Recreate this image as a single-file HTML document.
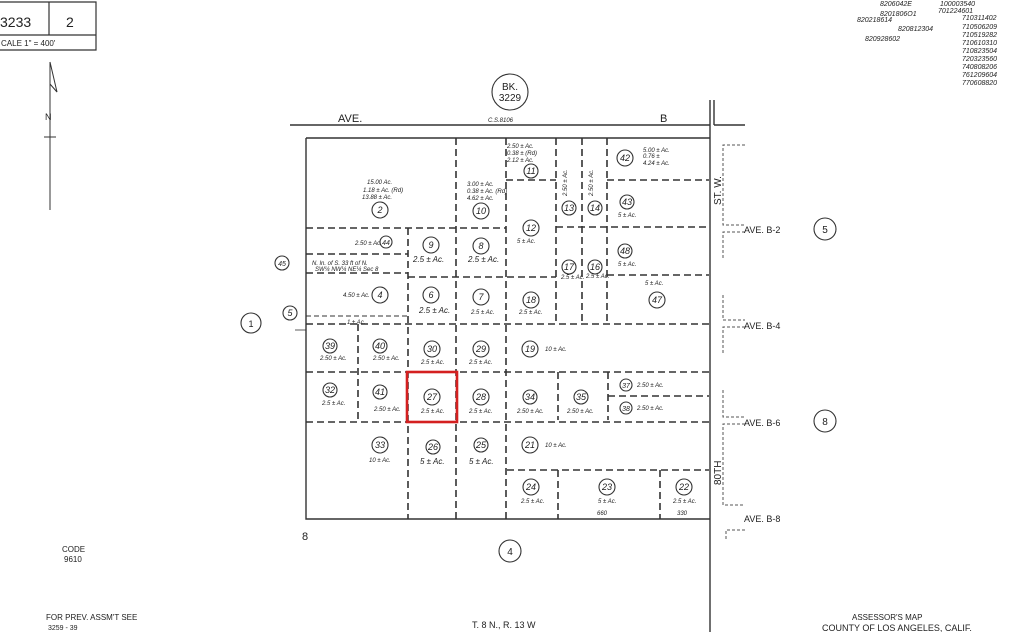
<!DOCTYPE html>
<html><head><meta charset="utf-8"><style>
html,body{margin:0;padding:0;background:#fff;width:1024px;height:632px;overflow:hidden}
svg{display:block}
text{font-family:"Liberation Sans",sans-serif;fill:#222}
.s{font-size:6px;font-style:italic}
.n{font-size:9px;font-style:italic;text-anchor:middle}
.d{stroke:#333;stroke-width:1.6;stroke-dasharray:7,4;fill:none}
.l{stroke:#333;stroke-width:1.6;fill:none}
.p{stroke:#555;stroke-width:1;stroke-dasharray:3,2;fill:none}
circle{fill:none;stroke:#333;stroke-width:1.1}
</style></head><body>
<svg width="1024" height="632" viewBox="0 0 1024 632" xmlns="http://www.w3.org/2000/svg">
<!-- header box -->
<path class="l" d="M0 2H96V50H0M0 35H96M49 2V35" style="stroke-width:1.2"/>
<text x="0" y="27" style="font-size:14px">3233</text>
<text x="66" y="27" style="font-size:14px">2</text>
<text x="1" y="46" style="font-size:8px">CALE 1" = 400'</text>
<!-- north arrow -->
<path class="l" d="M50 62V210M44 137H56M50 62L57 92L50 84" style="stroke-width:1"/>
<text x="45" y="120" style="font-size:9px">N</text>
<!-- top right numbers -->
<g style="font-size:7px;font-style:italic">
<text x="880" y="6">8206042E</text><text x="940" y="6">100003540</text>
<text x="880" y="16">8201806O1</text><text x="938" y="13">701224601</text>
<text x="857" y="22">820218614</text><text x="898" y="31">820812304</text>
<text x="865" y="41">820928602</text>
<text x="962" y="20">710311402</text><text x="962" y="29">710506209</text>
<text x="962" y="37">710519282</text><text x="962" y="45">710610310</text>
<text x="962" y="53">710823504</text><text x="962" y="61">720323560</text>
<text x="962" y="69">740808206</text><text x="962" y="77">761209604</text>
<text x="962" y="85">770608820</text>
</g>
<!-- BK circle -->
<circle cx="510" cy="92" r="18"/>
<text x="510" y="90" style="font-size:10px;text-anchor:middle">BK.</text>
<text x="510" y="101" style="font-size:10px;text-anchor:middle">3229</text>
<!-- Ave B -->
<path class="l" d="M290 125H710M714 125H745M710 100V632M714 100V125M306 138H710M306 138V519H710" style="stroke-width:1.4"/>
<text x="338" y="122" style="font-size:11px">AVE.</text>
<text x="660" y="122" style="font-size:11px">B</text>
<text x="488" y="122" class="s">C.S.8106</text>
<text x="302" y="540" style="font-size:11px">8</text>
<!-- dashed internal lines -->
<path class="d" d="M456 138V519M506 138V519M556 138V324M582 138V324M607 138V324
M408 228V519M358 324V420
M306 228H506M306 254H408M306 273H408M506 180H556M607 180H709M556 227H709
M408 277H556M607 275H709M306 324H709
M306 372H709M306 422H709M558 372V420M608 372V420M608 396H709
M507 470H709M558 470V519M660 470V519"/>
<path class="l" d="M306 316H408" style="stroke-width:1;stroke-dasharray:5,3"/>
<path class="l" d="M295 330L306 330" style="stroke-width:0.8"/>
<!-- red box -->
<rect x="407" y="372" width="50" height="50" fill="none" stroke="#d42020" stroke-width="2.6"/>
<!-- parcels -->
<g>
<circle cx="380" cy="210" r="8"/><text class="n" x="380" y="213">2</text>
<circle cx="481" cy="211" r="8"/><text class="n" x="481" y="214">10</text>
<circle cx="531" cy="171" r="7"/><text class="n" x="531" y="174">11</text>
<circle cx="531" cy="228" r="8"/><text class="n" x="531" y="231">12</text>
<circle cx="569" cy="208" r="7"/><text class="n" x="569" y="211">13</text>
<circle cx="595" cy="208" r="7"/><text class="n" x="595" y="211">14</text>
<circle cx="625" cy="158" r="8"/><text class="n" x="625" y="161">42</text>
<circle cx="627" cy="202" r="7"/><text class="n" x="627" y="205">43</text>
<circle cx="386" cy="242" r="6"/><text class="n" x="386" y="245" style="font-size:7px">44</text>
<circle cx="431" cy="245" r="8"/><text class="n" x="431" y="248">9</text>
<circle cx="481" cy="246" r="8"/><text class="n" x="481" y="249">8</text>
<circle cx="625" cy="251" r="7"/><text class="n" x="625" y="254">48</text>
<circle cx="569" cy="267" r="7"/><text class="n" x="569" y="270">17</text>
<circle cx="595" cy="267" r="7"/><text class="n" x="595" y="270">16</text>
<circle cx="657" cy="300" r="8"/><text class="n" x="657" y="303">47</text>
<circle cx="380" cy="295" r="8"/><text class="n" x="380" y="298">4</text>
<circle cx="431" cy="295" r="8"/><text class="n" x="431" y="298">6</text>
<circle cx="481" cy="297" r="8"/><text class="n" x="481" y="300">7</text>
<circle cx="531" cy="300" r="8"/><text class="n" x="531" y="303">18</text>
<circle cx="282" cy="263" r="7"/><text class="n" x="282" y="266" style="font-size:7px">45</text>
<circle cx="290" cy="313" r="7"/><text class="n" x="290" y="316">5</text>
<circle cx="251" cy="323" r="10"/><text class="n" x="251" y="327" style="font-style:normal">1</text>
<circle cx="330" cy="346" r="7"/><text class="n" x="330" y="349">39</text>
<circle cx="380" cy="346" r="7"/><text class="n" x="380" y="349">40</text>
<circle cx="432" cy="349" r="8"/><text class="n" x="432" y="352">30</text>
<circle cx="481" cy="349" r="8"/><text class="n" x="481" y="352">29</text>
<circle cx="530" cy="349" r="8"/><text class="n" x="530" y="352">19</text>
<circle cx="330" cy="390" r="7"/><text class="n" x="330" y="393">32</text>
<circle cx="380" cy="392" r="7"/><text class="n" x="380" y="395">41</text>
<circle cx="432" cy="397" r="8"/><text class="n" x="432" y="400">27</text>
<circle cx="481" cy="397" r="8"/><text class="n" x="481" y="400">28</text>
<circle cx="530" cy="397" r="7"/><text class="n" x="530" y="400">34</text>
<circle cx="581" cy="397" r="7"/><text class="n" x="581" y="400">35</text>
<circle cx="626" cy="385" r="6"/><text class="n" x="626" y="388" style="font-size:7px">37</text>
<circle cx="626" cy="408" r="6"/><text class="n" x="626" y="411" style="font-size:7px">38</text>
<circle cx="380" cy="445" r="8"/><text class="n" x="380" y="448">33</text>
<circle cx="433" cy="447" r="7"/><text class="n" x="433" y="450">26</text>
<circle cx="481" cy="445" r="7"/><text class="n" x="481" y="448">25</text>
<circle cx="530" cy="445" r="8"/><text class="n" x="530" y="448">21</text>
<circle cx="531" cy="487" r="8"/><text class="n" x="531" y="490">24</text>
<circle cx="607" cy="487" r="8"/><text class="n" x="607" y="490">23</text>
<circle cx="684" cy="487" r="8"/><text class="n" x="684" y="490">22</text>
</g>
<!-- acreage -->
<g class="s">
<text x="367" y="184">15.00 Ac.</text><text x="363" y="192">1.18 ± Ac. (Rd)</text><text x="362" y="199">13.88 ± Ac.</text>
<text x="467" y="186">3.00 ± Ac.</text><text x="467" y="193">0.38 ± Ac. (Rd)</text><text x="467" y="200">4.62 ± Ac.</text>
<text x="507" y="148">2.50 ± Ac.</text><text x="507" y="155">0.38 ± (Rd)</text><text x="507" y="162">2.12 ± Ac.</text>
<text x="643" y="152">5.00 ± Ac.</text><text x="643" y="158">0.76 ±</text><text x="643" y="165">4.24 ± Ac.</text>
<text x="618" y="217">5 ± Ac.</text><text x="618" y="266">5 ± Ac.</text><text x="645" y="285">5 ± Ac.</text>
<text x="355" y="245">2.50 ± Ac.</text>
<text x="413" y="262" style="font-size:8px">2.5 ± Ac.</text><text x="468" y="262" style="font-size:8px">2.5 ± Ac.</text>
<text x="517" y="243">5 ± Ac.</text>
<text x="312" y="265">N. ln. of S. 33 ft of N.</text><text x="315" y="271">SW¼ NW¼ NE¼ Sec 8</text>
<text x="343" y="297">4.50 ± Ac.</text>
<text x="419" y="313" style="font-size:8px">2.5 ± Ac.</text>
<text x="471" y="314">2.5 ± Ac.</text><text x="519" y="314">2.5 ± Ac.</text>
<text x="347" y="324">1 ± Ac.</text>
<text x="561" y="279">2.5 ± Ac.</text><text x="586" y="278">2.5 ± Ac.</text>
<text x="320" y="360">2.50 ± Ac.</text><text x="373" y="360">2.50 ± Ac.</text>
<text x="421" y="364">2.5 ± Ac.</text><text x="469" y="364">2.5 ± Ac.</text><text x="545" y="351">10 ± Ac.</text>
<text x="322" y="405">2.5 ± Ac.</text><text x="374" y="411">2.50 ± Ac.</text>
<text x="421" y="413">2.5 ± Ac.</text><text x="469" y="413">2.5 ± Ac.</text>
<text x="517" y="413">2.50 ± Ac.</text><text x="567" y="413">2.50 ± Ac.</text>
<text x="637" y="387">2.50 ± Ac.</text><text x="637" y="410">2.50 ± Ac.</text>
<text x="369" y="462">10 ± Ac.</text>
<text x="420" y="464" style="font-size:8px">5 ± Ac.</text><text x="469" y="464" style="font-size:8px">5 ± Ac.</text>
<text x="545" y="447">10 ± Ac.</text>
<text x="521" y="503">2.5 ± Ac.</text><text x="598" y="503">5 ± Ac.</text><text x="673" y="503">2.5 ± Ac.</text>
<text x="597" y="515">660</text><text x="677" y="515">330</text>
</g>
<!-- rotated small acreage -->
<g class="s">
<text transform="translate(567,196) rotate(-90)">2.50 ± Ac.</text>
<text transform="translate(593,196) rotate(-90)">2.50 ± Ac.</text>
</g>
<!-- right side streets -->
<path class="p" d="M745 145H723V225H745M745 232H723V260M723 295V320H745M745 327H723V355M723 390V417H745M745 424H723V505H745M745 530H726V540"/>
<text transform="translate(721,205) rotate(-90)" style="font-size:10px">ST. W.</text>
<text transform="translate(721,485) rotate(-90)" style="font-size:10px">80TH</text>
<text x="744" y="233" style="font-size:9px">AVE. B-2</text>
<text x="744" y="329" style="font-size:9px">AVE. B-4</text>
<text x="744" y="426" style="font-size:9px">AVE. B-6</text>
<text x="744" y="522" style="font-size:9px">AVE. B-8</text>
<circle cx="825" cy="229" r="11"/><text x="825" y="233" style="font-size:10px;text-anchor:middle">5</text>
<circle cx="825" cy="421" r="11"/><text x="825" y="425" style="font-size:10px;text-anchor:middle">8</text>
<circle cx="510" cy="551" r="11"/><text x="510" y="555" style="font-size:10px;text-anchor:middle">4</text>
<!-- bottom text -->
<text x="62" y="552" style="font-size:8px">CODE</text><text x="64" y="562" style="font-size:8px">9610</text>
<text x="46" y="620" style="font-size:8px">FOR PREV. ASSM'T SEE</text>
<text x="48" y="630" style="font-size:7px">3259 - 39</text>
<text x="472" y="628" style="font-size:9px">T. 8 N., R. 13 W</text>
<text x="852" y="620" style="font-size:8px">ASSESSOR'S MAP</text>
<text x="822" y="631" style="font-size:9px">COUNTY OF LOS ANGELES, CALIF.</text>
</svg>
</body></html>
